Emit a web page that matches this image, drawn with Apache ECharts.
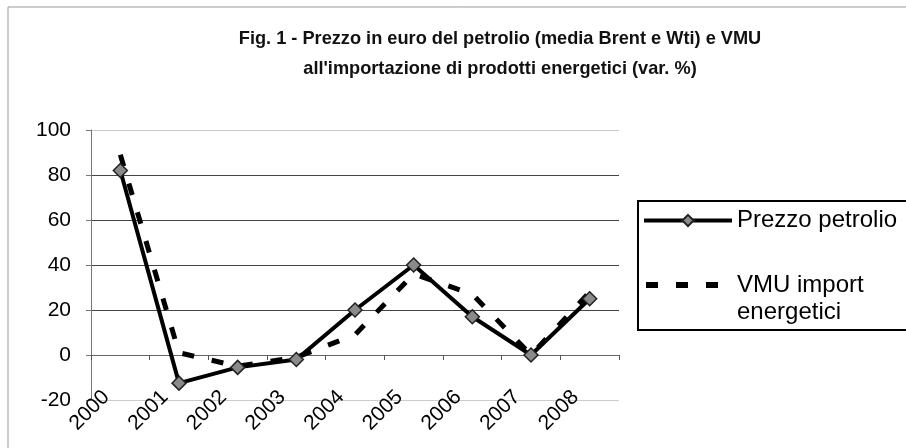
<!DOCTYPE html>
<html><head><meta charset="utf-8">
<script src="https://cdn.jsdelivr.net/npm/echarts@6/dist/echarts.min.js"></script>
<style>html,body{margin:0;padding:0;background:#fff}#c{width:906px;height:448px}</style>
</head><body><div id="c"></div>
<script>
var categories = ['2000','2001','2002','2003','2004','2005','2006','2007','2008'];
var prezzoPetrolio = [82, -12.5, -5.5, -2, 20, 40, 17, 0, 25];
var vmuImport = [89, 1, -5, -1, 9, 36, 27, 0, 28];
var yTicks = {min: -20, max: 100, interval: 20};

var chart = echarts.init(document.getElementById('c'));
chart.setOption({
  backgroundColor: '#fff',
  animation: false,
  title: {
    text: 'Fig. 1 - Prezzo in euro del petrolio (media Brent e Wti) e VMU\nall\'importazione di prodotti energetici (var. %)',
    left: 495, top: 19, textAlign: 'center',
    textStyle: {fontFamily: 'Liberation Sans, Arial', fontWeight: 'bold', fontSize: 18.2, lineHeight: 30, color: '#111'}
  },
  graphic: [
    {type: 'rect', shape: {x: 8, y: 7, width: 920, height: 460}, style: {fill: 'none', stroke: '#999', lineWidth: 1}, silent: true},
    {type: 'text', left: 737, top: 300, style: {text: 'energetici', font: '24px "Liberation Sans", Arial', fill: '#000'}, silent: true},
    {type: 'line', shape: {x1: 646, y1: 285, x2: 720, y2: 285}, style: {stroke: '#000', lineWidth: 6, lineDash: [12, 18], lineCap: 'butt'}, silent: true}
  ],
  legend: {
    orient: 'vertical', left: 638, top: 201,
    padding: [6, 10, 31, 4], itemGap: 38,
    borderColor: '#000', borderWidth: 2,
    itemWidth: 88, itemHeight: 14,
    textStyle: {fontFamily: 'Liberation Sans, Arial', fontSize: 24, color: '#000', lineHeight: 27},
    data: [
      {name: 'Prezzo petrolio', lineStyle: {width: 4, color: '#000'}},
      {name: 'VMU import', icon: 'none'}
    ]
  },
  grid: {left: 91, right: 287, top: 130, bottom: 48, containLabel: false},
  xAxis: {
    type: 'category', data: categories, boundaryGap: true,
    axisLine: {onZero: true, lineStyle: {color: '#666', width: 1}},
    axisTick: {show: true, length: 5, lineStyle: {color: '#555'}},
    axisLabel: {rotate: 45, margin: 8, verticalAlign: 'bottom', lineHeight: 40, fontFamily: 'Liberation Sans, Arial', fontSize: 21, color: '#000'}
  },
  yAxis: {
    type: 'value', min: yTicks.min, max: yTicks.max, interval: yTicks.interval,
    axisLine: {show: true, lineStyle: {color: '#777'}},
    axisTick: {show: true, length: 5, lineStyle: {color: '#777'}},
    axisLabel: {margin: 20, fontFamily: 'Liberation Sans, Arial', fontSize: 21, color: '#000'},
    splitLine: {show: true, lineStyle: {color: ['#ccc', '#666', '#444', '#444', '#444', '#444', '#ccc'], width: 1}}
  },
  series: [
    {
      name: 'Prezzo petrolio', type: 'line', data: prezzoPetrolio,
      symbol: 'diamond', symbolSize: 14,
      lineStyle: {color: '#000', width: 4},
      itemStyle: {color: '#8a8a8a', borderColor: '#222', borderWidth: 1.5},
      z: 3
    },
    {
      name: 'VMU import', type: 'line', data: vmuImport,
      symbol: 'none',
      lineStyle: {color: '#000', width: 5, type: [12, 18]},
      itemStyle: {color: '#000'},
      z: 2
    }
  ]
});
</script></body></html>
